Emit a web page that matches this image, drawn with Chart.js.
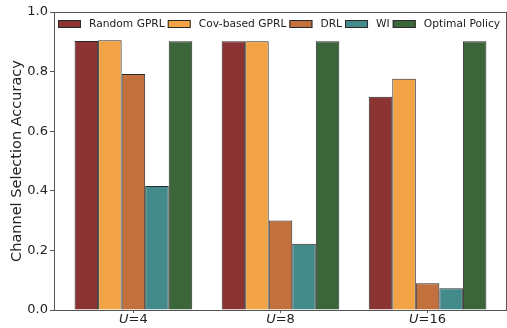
<!DOCTYPE html>
<html><head><meta charset="utf-8">
<script src="https://cdn.jsdelivr.net/npm/chart.js@4.4.1/dist/chart.umd.min.js"></script>
<style>html,body{margin:0;padding:0;background:#fff}#wrap{width:507px;height:328px}</style>
</head><body><div id="wrap"><canvas id="c" width="507" height="328"></canvas></div>
<script>
const categories = ["4", "8", "16"];
const seriesNames = ["Random GPRL", "Cov-based GPRL", "DRL", "WI", "Optimal Policy"];
const randomGPRL = [0.903, 0.902, 0.716];
const covGPRL = [0.905, 0.902, 0.776];
const drl = [0.792, 0.30, 0.090];
const wi = [0.416, 0.222, 0.073];
const optimal = [0.902, 0.902, 0.902];
const yTicks = [0.0, 0.2, 0.4, 0.6, 0.8, 1.0];
const colors = ["#8C3434", "#F2A346", "#C2703D", "#438A8A", "#3B6639"];

const values = [randomGPRL, covGPRL, drl, wi, optimal];
const FONT = "'DejaVu Sans', sans-serif";

const framePlugin = {
  id: 'frame',
  afterDatasetsDraw(chart) {
    const {ctx, chartArea: a} = chart;
    ctx.save();
    ctx.strokeStyle = '#555';
    ctx.lineWidth = 1;
    ctx.strokeRect(a.left + 0.5, a.top + 0.5, a.right - a.left - 1, a.bottom - a.top);
    // legend
    ctx.font = `10.7px ${FONT}`;
    ctx.textBaseline = 'middle';
    ctx.textAlign = 'left';
    let x = a.left + 4;
    const yc = a.top + 12;
    seriesNames.forEach((n, i) => {
      ctx.fillStyle = colors[i];
      ctx.fillRect(x, yc - 4, 23, 8);
      ctx.strokeStyle = '#2a2a2a';
      ctx.strokeRect(x + 0.5, yc - 3.5, 22, 7);
      ctx.fillStyle = '#222';
      ctx.fillText(n, x + 31, yc + 0.5);
      x += 31 + ctx.measureText(n).width + 3;
    });
    ctx.restore();
  },
  afterDraw(chart) {
    const {ctx} = chart;
    const xs = chart.scales.x;
    ctx.save();
    ctx.fillStyle = '#222';
    ctx.textBaseline = 'top';
    categories.forEach((c, i) => {
      const px = xs.getPixelForValue(i);
      const y = xs.top + 3;
      ctx.font = `italic 13px ${FONT}`;
      const w1 = ctx.measureText('U').width;
      ctx.font = `13px ${FONT}`;
      const rest = '=' + c;
      const w2 = ctx.measureText(rest).width;
      const x0 = px - (w1 + w2) / 2;
      ctx.font = `italic 13px ${FONT}`;
      ctx.textAlign = 'left';
      ctx.fillText('U', x0, y);
      ctx.font = `13px ${FONT}`;
      ctx.fillText(rest, x0 + w1, y);
    });
    ctx.restore();
  }
};

new Chart(document.getElementById('c'), {
  type: 'bar',
  data: {
    datasets: seriesNames.map((n, i) => ({
      label: n,
      data: values[i].map((v, k) => ({x: k, y: v})),
      backgroundColor: colors[i],
      borderColor: '#2a2a2a',
      borderWidth: 1,
      categoryPercentage: 0.8,
      barPercentage: 1.0
    }))
  },
  options: {
    responsive: false,
    animation: false,
    layout: {padding: {top: 12, right: 0, left: 9, bottom: 0}},
    plugins: {
      tooltip: {enabled: false},
      legend: {display: false}
    },
    scales: {
      x: {
        type: 'linear',
        min: -0.54, max: 2.54,
        offset: false,
        afterBuildTicks(s) { s.ticks = categories.map((c, k) => ({value: k})); },
        grid: {display: true, offset: false, drawOnChartArea: false, drawTicks: true, tickLength: 3, color: '#555'},
        border: {display: true, color: '#555'},
        ticks: {display: false},
        afterFit(s) { s.height = 18; }
      },
      y: {
        min: 0, max: 1,
        afterBuildTicks(s) { s.ticks = yTicks.map(v => ({value: v})); },
        grid: {display: true, drawOnChartArea: false, tickLength: 4, color: '#555'},
        border: {display: true, color: '#555'},
        ticks: {color: '#222', font: {family: FONT, size: 13}, padding: 2,
          callback: v => Number(v).toFixed(1)},
        title: {display: true, text: 'Channel Selection Accuracy', color: '#222',
          font: {family: FONT, size: 14.5}, padding: {top: 0, bottom: 0}},
        afterFit(s) { s.width = 45; }
      }
    }
  },
  plugins: [framePlugin]
});
</script>
</body></html>
